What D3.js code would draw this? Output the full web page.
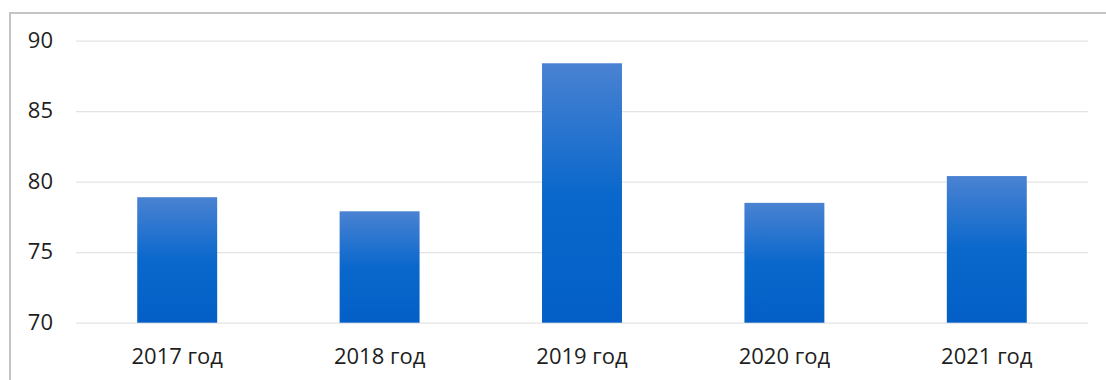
<!DOCTYPE html>
<html><head><meta charset="utf-8">
<script src="https://cdn.jsdelivr.net/npm/d3@7"></script>
<style>body{margin:0;background:#fff;} text{font-family:"Open Sans","Liberation Sans",sans-serif;}</style>
</head><body>
<svg id="c" width="1106" height="380"></svg>
<script>
const categories = ["2017 год","2018 год","2019 год","2020 год","2021 год"];
const values = [78.9, 77.9, 88.4, 78.5, 80.4];
const yTicks = [70,75,80,85,90];

const svg = d3.select("#c");
const W = 1106, H = 380;
const m = {left:76, right:18, top:40.7, bottom:57.3};

// frame
svg.append("path").attr("d", `M10,${H} L10,13 L${W},13`).attr("fill","none")
  .attr("stroke","#c4c4c4").attr("stroke-width",2);

const x = d3.scaleBand().domain(categories).range([m.left, W-m.right]).paddingInner(0.605).paddingOuter(0.3025);
const y = d3.scaleLinear().domain([70,90]).range([H-m.bottom, m.top]);

const defs = svg.append("defs");
const g = defs.append("linearGradient").attr("id","bg").attr("x1",0).attr("y1",0).attr("x2",0).attr("y2",1);
g.append("stop").attr("offset","0%").attr("stop-color","#4a82d2");
g.append("stop").attr("offset","50%").attr("stop-color","#0a68cc");
g.append("stop").attr("offset","100%").attr("stop-color","#035fc6");

// grid
const yAxis = d3.axisLeft(y).tickValues(yTicks).tickSize(-(W-m.right-m.left)).tickPadding(23);
const ga = svg.append("g").attr("transform",`translate(${m.left},0)`).call(yAxis);
ga.select(".domain").remove();
ga.selectAll(".tick line").attr("stroke","#e3e3e3").attr("stroke-width",1.2);
ga.selectAll(".tick text").attr("fill","#1e1e1e").attr("font-size",22).attr("dy","0.3em");

svg.append("g").selectAll("rect").data(values).join("rect")
  .attr("x",(d,i)=>x(categories[i])).attr("width",x.bandwidth())
  .attr("y",d=>y(d)).attr("height",d=>y(70)-y(d))
  .attr("fill","url(#bg)");

const xAxis = d3.axisBottom(x).tickSize(0).tickPadding(26);
const gx = svg.append("g").attr("transform",`translate(0,${y(70)})`).call(xAxis);
gx.select(".domain").remove();
gx.selectAll(".tick text").attr("fill","#1e1e1e").attr("font-size",22);
</script>
</body></html>
